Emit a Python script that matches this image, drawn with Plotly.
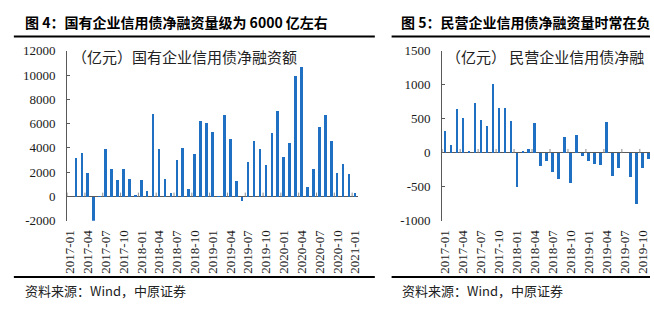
import pandas as pd
import plotly.graph_objects as go

# Monthly net financing of credit bonds (100 million yuan)
soe_months = [d.strftime("%Y-%m") for d in pd.date_range("2017-01-01", "2021-01-01", freq="MS")]
soe_net = [0, 3150, 3550, 1950, -2050, 40, 3950, 2250, 1370, 2250, 1450, 130, 1345, 465,
           6830, 3950, 1450, 300, 2975, 4010, 590, 3500, 6260, 6080, 5300, 40, 6700, 4740,
           1300, -340, 2850, 4580, 3880, 2640, 5280, 7060, 3260, 4430, 9960, 10690, 780,
           2250, 5740, 6750, 4590, 1940, 2720, 1830, 300]

pe_months = [d.strftime("%Y-%m") for d in pd.date_range("2017-01-01", "2019-11-01", freq="MS")]
pe_net = [320, 110, 650, 520, 20, 740, 490, 390, 1010, 660, 655, 470, -500, 20, 55, 440,
          -200, -120, -280, -390, 230, -450, 270, -40, -120, -160, -180, 450, -340, -220,
          0, -360, -750, -220, -90]

soe_yticks = [-2000, 0, 2000, 4000, 6000, 8000, 10000, 12000]
pe_yticks = [-1000, -500, 0, 500, 1000, 1500]

W, H = 654, 326
BLUE = "#1F6FC3"
AXIS = "#595959"
SERIF = "Liberation Serif"
CJK = "Noto Sans CJK SC"


def px_x(p):
    return p / W


def px_y(p):
    return 1 - p / H


fig = go.Figure()
fig.add_trace(go.Bar(x=list(range(len(soe_net))), y=soe_net, marker=dict(color=BLUE, line_width=0),
                     width=0.45, xaxis="x", yaxis="y", showlegend=False))
fig.add_trace(go.Bar(x=list(range(len(pe_net))), y=pe_net, marker=dict(color=BLUE, line_width=0),
                     width=0.45, xaxis="x2", yaxis="y2", showlegend=False))

plot_top, plot_bot = 46, 224
ydom = [px_y(plot_bot), px_y(plot_top)]
left_dom = [px_x(63), px_x(358)]
right_dom = [px_x(443.3), 1.0]
right_xmax = 34.2

xcommon = dict(tickangle=-90, ticks="", showline=False, showgrid=False, zeroline=False,
               tickfont=dict(family=SERIF, size=13, color="#1a1a1a"), ticklabelstandoff=6)
ycommon = dict(showgrid=False, showline=True, linecolor=AXIS, linewidth=1, ticks="inside",
               ticklen=3, tickcolor=AXIS, zeroline=True, zerolinecolor=AXIS, zerolinewidth=1,
               tickfont=dict(family=SERIF, size=13, color="#1a1a1a"), ticklabelstandoff=8)

fig.update_layout(
    width=W, height=H, margin=dict(l=0, r=0, t=0, b=0),
    paper_bgcolor="white", plot_bgcolor="white", bargap=0,
    xaxis=dict(domain=left_dom, range=[-0.5, len(soe_net) - 0.5], anchor="y",
               tickvals=list(range(0, len(soe_net), 3)), ticktext=soe_months[::3], **xcommon),
    yaxis=dict(domain=ydom, range=[-2000, 12000], anchor="x", tickvals=soe_yticks,
               ticktext=[str(v) for v in soe_yticks], **ycommon),
    xaxis2=dict(domain=right_dom, range=[-0.5, right_xmax], anchor="y2",
                tickvals=list(range(0, len(pe_net), 3)), ticktext=pe_months[::3], **xcommon),
    yaxis2=dict(domain=ydom, range=[-1000, 1500], anchor="x2", tickvals=pe_yticks,
                ticktext=[str(v) for v in pe_yticks], **ycommon),
)

shapes = []
# small category tick marks rising from the zero line every three months
for xa, ya, n, yr in (("x", "y", len(soe_net), (-2000, 12000)), ("x2", "y2", len(pe_net), (-1000, 1500))):
    tick_h = 4 * (yr[1] - yr[0]) / (plot_bot - plot_top)
    for k in range(0, n + 1, 3):
        shapes.append(dict(type="line", xref=xa, yref=ya, x0=k - 0.5, x1=k - 0.5, y0=0, y1=tick_h,
                           line=dict(color="#8c8c8c", width=1)))

# heavy rules framing each exhibit
for x0, x1 in ((9, 375), (392, 654)):
    for yy in (31, 283):
        shapes.append(dict(type="line", xref="paper", yref="paper", x0=px_x(x0), x1=px_x(x1),
                           y0=px_y(yy), y1=px_y(yy), line=dict(color="black", width=2)))
fig.update_layout(shapes=shapes)

annos = [
    dict(text="<b>图 4：国有企业信用债净融资量级为 6000 亿左右</b>", x=px_x(18), y=px_y(16),
         font=dict(family=CJK, size=14, color="black")),
    dict(text="<b>图 5：民营企业信用债净融资量时常在负</b>", x=px_x(400), y=px_y(16),
         font=dict(family=CJK, size=14, color="black")),
    dict(text="（亿元）国有企业信用债净融资额", x=px_x(66), y=px_y(52),
         font=dict(family=CJK, size=15, color="#222")),
    dict(text="（亿元） 民营企业信用债净融", x=px_x(445), y=px_y(52),
         font=dict(family=CJK, size=15, color="#222")),
    dict(text="资料来源：Wind，中原证券", x=px_x(18), y=px_y(297),
         font=dict(family=CJK, size=13, color="#222")),
    dict(text="资料来源：Wind，中原证券", x=px_x(401), y=px_y(297),
         font=dict(family=CJK, size=13, color="#222")),
]
for a in annos:
    a.update(xref="paper", yref="paper", xanchor="left", yanchor="middle", showarrow=False)
fig.update_layout(annotations=annos)

fig.write_html("out.html")
